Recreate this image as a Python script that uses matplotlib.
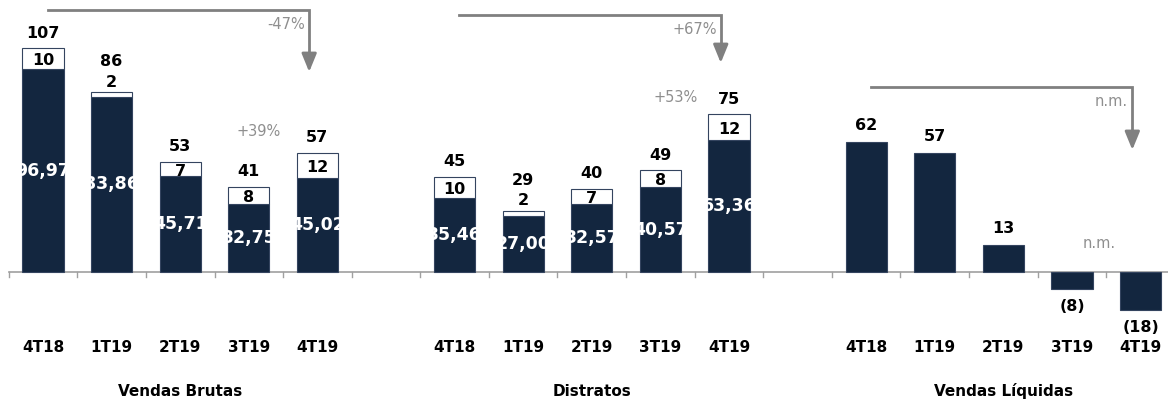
import matplotlib.pyplot as plt
import numpy as np

# --- DATA ---
quarters = ["4T18", "1T19", "2T19", "3T19", "4T19"]
groups = ["Vendas Brutas", "Distratos", "Vendas Líquidas"]

brutas_base = [96.97, 83.86, 45.71, 32.75, 45.02]
brutas_top = [10, 2, 7, 8, 12]
brutas_total = [107, 86, 53, 41, 57]

distratos_base = [35.46, 27.00, 32.57, 40.57, 63.36]
distratos_top = [10, 2, 7, 8, 12]
distratos_total = [45, 29, 40, 49, 75]

liquidas = [62, 57, 13, -8, -18]

big_change = ["-47%", "+67%", "n.m."]
small_change = ["+39%", "+53%", "n.m."]

# --- STYLE ---
DARK = "#13263f"
EDGE = "#34445f"
GREY = "#808080"
TXT_GREY = "#8f8f8f"
W = 0.6
plt.rcParams['font.family'] = ['DejaVu Sans']

fig = plt.figure(figsize=(11.68, 4.01), dpi=100)
ax = fig.add_axes([0, 0, 1, 1])
ax.set_xlim(-0.627, 16.40)
ax.set_ylim(-61.7, 130.1)
ax.axis('off')

x1 = np.arange(5)
x2 = np.arange(5) + 6
x3 = np.arange(5) + 12


def fmt(v):
    return f"{v:.2f}".replace(".", ",")


def stacked(xs, base, top, total):
    bars = ax.bar(xs, base, W, color=DARK, edgecolor=EDGE, lw=0.8, zorder=2)
    ax.bar(xs, top, W, bottom=base, color="white", edgecolor=EDGE, lw=0.8, zorder=2)
    for bar, x, b, t, tot in zip(bars, xs, base, top, total):
        # white value label, clipped to its bar like white-on-white in the original
        txt = ax.text(x, b / 2, fmt(b), ha='center', va='center', color='white',
                      fontsize=12.5, fontweight='bold', zorder=3)
        txt.set_clip_path(bar)
        if t >= 5:
            ax.text(x, b + t / 2 - 1, str(t), ha='center', va='center',
                    fontsize=11.5, fontweight='bold', zorder=3)
            ax.annotate(str(tot), (x, b + t), xytext=(0, 11), textcoords='offset points',
                        ha='center', va='center', fontsize=11.5, fontweight='bold')
        else:
            ax.annotate(str(t), (x, b + t), xytext=(0, 7.5), textcoords='offset points',
                        ha='center', va='center', fontsize=11.5, fontweight='bold')
            ax.annotate(str(tot), (x, b + t), xytext=(0, 22), textcoords='offset points',
                        ha='center', va='center', fontsize=11.5, fontweight='bold')


stacked(x1, brutas_base, brutas_top, brutas_total)
stacked(x2, distratos_base, distratos_top, distratos_total)

ax.bar(x3, liquidas, W, color=DARK, edgecolor=EDGE, lw=0.8, zorder=2)
for x, v in zip(x3, liquidas):
    lab = str(v) if v >= 0 else f"({-v})"
    off = 12 if v >= 0 else -13
    ax.annotate(lab, (x, v), xytext=(0, off), textcoords='offset points',
                ha='center', va='center', fontsize=11.5, fontweight='bold')

# baseline with ticks at slot boundaries
ax.plot([-0.5, 16.6], [0, 0], color="#a0a0a0", lw=1.2, zorder=1)
for b in np.arange(-0.5, 16.6, 1.0):
    ax.plot([b, b], [0, -2.2], color="#a0a0a0", lw=1.0, zorder=1)

# category labels and group titles
for xs, g in zip([x1, x2, x3], groups):
    for x, q in zip(xs, quarters):
        ax.text(x, -35.9, q, ha='center', va='center', fontsize=11, fontweight='bold')
    ax.text(xs[2], -57, g, ha='center', va='center', fontsize=11, fontweight='bold')

# comparison arrows 4T18 -> 4T19
arrow_levels = [(125.4, 95.7), (123.0, 100.0), (88.5, 58.4)]
for xs, (ytop, ytip), lab in zip([x1, x2, x3], arrow_levels, big_change):
    xa, xb = xs[0] + 0.07, xs[4] - 0.12
    ax.plot([xa, xb, xb], [ytop, ytop, ytip + 6], color=GREY, lw=2, zorder=1,
            solid_joinstyle='miter')
    ax.annotate("", xy=(xb, ytip), xytext=(xb, ytip + 9),
                arrowprops=dict(arrowstyle="-|>,head_width=0.45,head_length=1.1",
                                color=GREY, lw=2, shrinkA=0, shrinkB=0))
    ax.text(xb - 0.06, ytop - 6.8, lab, ha='right', va='center', color=TXT_GREY, fontsize=10.5)

# quarter-on-quarter change labels
small_pos = [(3.15, 67.0), (9.22, 83.3), (15.39, 13.4)]
for (x, y), lab in zip(small_pos, small_change):
    ax.text(x, y, lab, ha='center', va='center', color=TXT_GREY, fontsize=10.5)

fig.savefig("out.png", dpi=100)
